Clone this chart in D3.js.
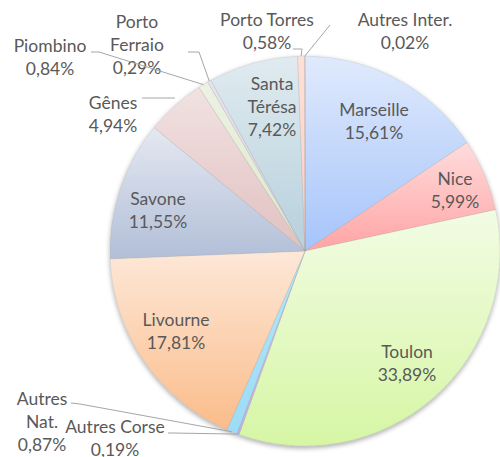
<!DOCTYPE html>
<html>
<head>
<meta charset="utf-8">
<script src="https://cdn.jsdelivr.net/npm/d3@7"></script>
<style>
  body { margin: 0; background: #fff; }
  text { font-family: Lato, "Open Sans", sans-serif; font-size: 17.5px; fill: #595959; }
</style>
</head>
<body>
<div id="chart"></div>
<script>
// slices, clockwise from 12 o'clock
const names = ["Marseille", "Nice", "Toulon", "Autres Corse", "Autres Nat.", "Livourne",
  "Savone", "Gênes", "Piombino", "Porto Ferraio", "Santa Térésa", "Porto Torres", "Autres Inter."];
const shares = [15.61, 5.99, 33.89, 0.19, 0.87, 17.81, 11.55, 4.94, 0.84, 0.29, 7.42, 0.58, 0.02];
const topColors = ["#e0eafc", "#ffdcdc", "#f2fce4", "#d4c8ee", "#b4e6f8", "#fde8d8",
  "#e4e8f1", "#f1e2e2", "#ecf2e2", "#e8e3ef", "#e0ebf0", "#fde0d8", "#fde0d8"];
const bottomColors = ["#a6c4fb", "#ffa4a4", "#d6f6a4", "#c0aee6", "#9cdcf6", "#fbbc8a",
  "#b2bfd8", "#e2c0c0", "#dde8cc", "#d8d0e4", "#b6d0dc", "#fbd0c4", "#fbd0c4"];

// label lines (text rows) per slice
const labelLines = [
  ["Marseille", "15,61%"], ["Nice", "5,99%"], ["Toulon", "33,89%"],
  ["Autres Corse", "0,19%"], ["Autres", "Nat.", "0,87%"], ["Livourne", "17,81%"],
  ["Savone", "11,55%"], ["Gênes", "4,94%"], ["Piombino", "0,84%"],
  ["Porto", "Ferraio", "0,29%"], ["Santa", "Térésa", "7,42%"], ["Porto Torres", "0,58%"],
  ["Autres Inter.", "0,02%"]
];

const width = 500, height = 457;
const cx = 305, cy = 251, radius = 195;

const svg = d3.select("#chart").append("svg")
  .attr("width", width)
  .attr("height", height);

const defs = svg.append("defs");

const shadow = defs.append("filter").attr("id", "shadow")
  .attr("x", "-10%").attr("y", "-10%").attr("width", "120%").attr("height", "120%");
shadow.append("feGaussianBlur").attr("in", "SourceAlpha").attr("stdDeviation", 2.5);
shadow.append("feOffset").attr("dx", 0).attr("dy", 2).attr("result", "blur");
shadow.append("feComponentTransfer").append("feFuncA").attr("type", "linear").attr("slope", 0.35);
const merge = shadow.append("feMerge");
merge.append("feMergeNode");
merge.append("feMergeNode").attr("in", "SourceGraphic");

names.forEach((n, i) => {
  const grad = defs.append("linearGradient")
    .attr("id", "grad" + i)
    .attr("x1", 0).attr("y1", 0).attr("x2", 0).attr("y2", 1);
  grad.append("stop").attr("offset", "0%").attr("stop-color", topColors[i]);
  grad.append("stop").attr("offset", "100%").attr("stop-color", bottomColors[i]);
});

const data = names.map((n, i) => ({ name: n, value: shares[i], i }));

const pie = d3.pie().sort(null).value(d => d.value);
const arc = d3.arc().innerRadius(0).outerRadius(radius);
const arcs = pie(data);

const g = svg.append("g").attr("transform", `translate(${cx},${cy})`);

g.append("g")
  .attr("filter", "url(#shadow)")
  .selectAll("path")
  .data(arcs)
  .enter()
  .append("path")
  .attr("d", arc)
  .attr("fill", d => `url(#grad${d.data.i})`)
  .attr("stroke", "rgba(150,150,150,0.25)")
  .attr("stroke-width", 0.75);

// label positions (absolute, centre of text block)
const labelPos = [
  [374, 110], [455, 179], [407, 352], [115, 427], [42, 399], [176, 320],
  [158, 199], [113, 103], [50, 46], [137, 22], [272, 84], [267, 20], [405, 20]
];
const lineH = 23;

const labels = svg.append("g");
data.forEach((d, i) => {
  const [lx, ly] = labelPos[i];
  const t = labels.append("text")
    .attr("text-anchor", "middle");
  labelLines[i].forEach((s, k) => {
    t.append("tspan")
      .attr("x", lx)
      .attr("y", ly + k * lineH + 6)
      .text(s);
  });
});

// leader lines: from label end to slice edge
const leaders = [
  { i: 8, pts: [[91, 52], [99, 52]] },
  { i: 9, pts: [[188, 52], [199, 52]] },
  { i: 7, pts: [[142, 98]] },
  { i: 11, pts: [[293, 49], [302, 49]] },
  { i: 12, pts: [[330, 25]] },
  { i: 4, pts: [[71, 403], [80, 404]] },
  { i: 3, pts: [[168, 433], [173, 433]] }
];

const line = d3.line();
leaders.forEach(l => {
  const a = arcs[l.i];
  const mid = (a.startAngle + a.endAngle) / 2;
  let end = [cx + Math.sin(mid) * radius, cy - Math.cos(mid) * radius];
  if (l.i === 7) end = [175, 98];
  svg.append("path")
    .attr("d", line([...l.pts, end]))
    .attr("fill", "none")
    .attr("stroke", "#a6a6a6")
    .attr("stroke-width", 1);
});
</script>
</body>
</html>
